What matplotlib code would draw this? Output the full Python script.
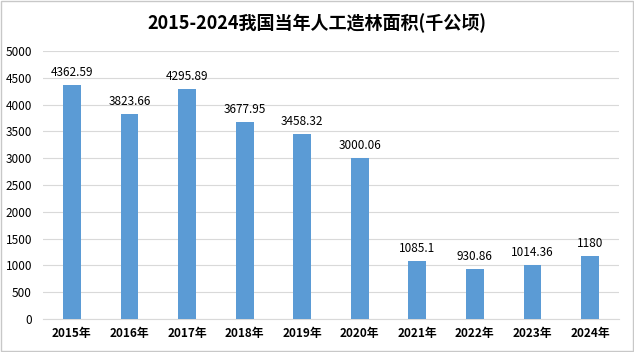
import matplotlib.pyplot as plt

plt.rcParams['font.family'] = ['Noto Sans CJK SC', 'DejaVu Sans']

years = ['2015年', '2016年', '2017年', '2018年', '2019年',
         '2020年', '2021年', '2022年', '2023年', '2024年']
area = [4362.59, 3823.66, 4295.89, 3677.95, 3458.32,
        3000.06, 1085.1, 930.86, 1014.36, 1180]
labels = ['4362.59', '3823.66', '4295.89', '3677.95', '3458.32',
          '3000.06', '1085.1', '930.86', '1014.36', '1180']

fig = plt.figure(figsize=(6.34, 3.52), dpi=100)
ax = fig.add_axes([0.068, 0.094, 0.908, 0.761])

x = range(len(years))
ax.bar(x, area, width=0.31, color='#5B9BD5', zorder=3)
for i, v in enumerate(area):
    ax.text(i, v + 110, labels[i], ha='center', va='bottom', fontsize=8.5,
            fontweight='medium', color='#000000')

ax.set_xlim(-0.5, len(years) - 0.5)
ax.set_ylim(0, 5000)
ax.set_yticks(range(0, 5001, 500))
ax.set_xticks(list(x))
ax.set_xticklabels(years, fontsize=8.5, fontweight='bold')
ax.tick_params(axis='y', labelsize=8.5, length=0, pad=8)
ax.tick_params(axis='x', length=0, pad=6)
ax.grid(axis='y', color='#D9D9D9', linewidth=0.8, zorder=0)
for s in ['top', 'right', 'left']:
    ax.spines[s].set_visible(False)
ax.spines['bottom'].set_color('#D9D9D9')

fig.text(0.5, 0.935, '2015-2024我国当年人工造林面积(千公顷)', ha='center', va='center',
         fontsize=13, fontweight='bold')

fig.patches.append(plt.Rectangle((0.002, 0.003), 0.996, 0.994, transform=fig.transFigure,
                                 fill=False, edgecolor='#C8C8C8', linewidth=1))

fig.savefig('out.png', dpi=100)
